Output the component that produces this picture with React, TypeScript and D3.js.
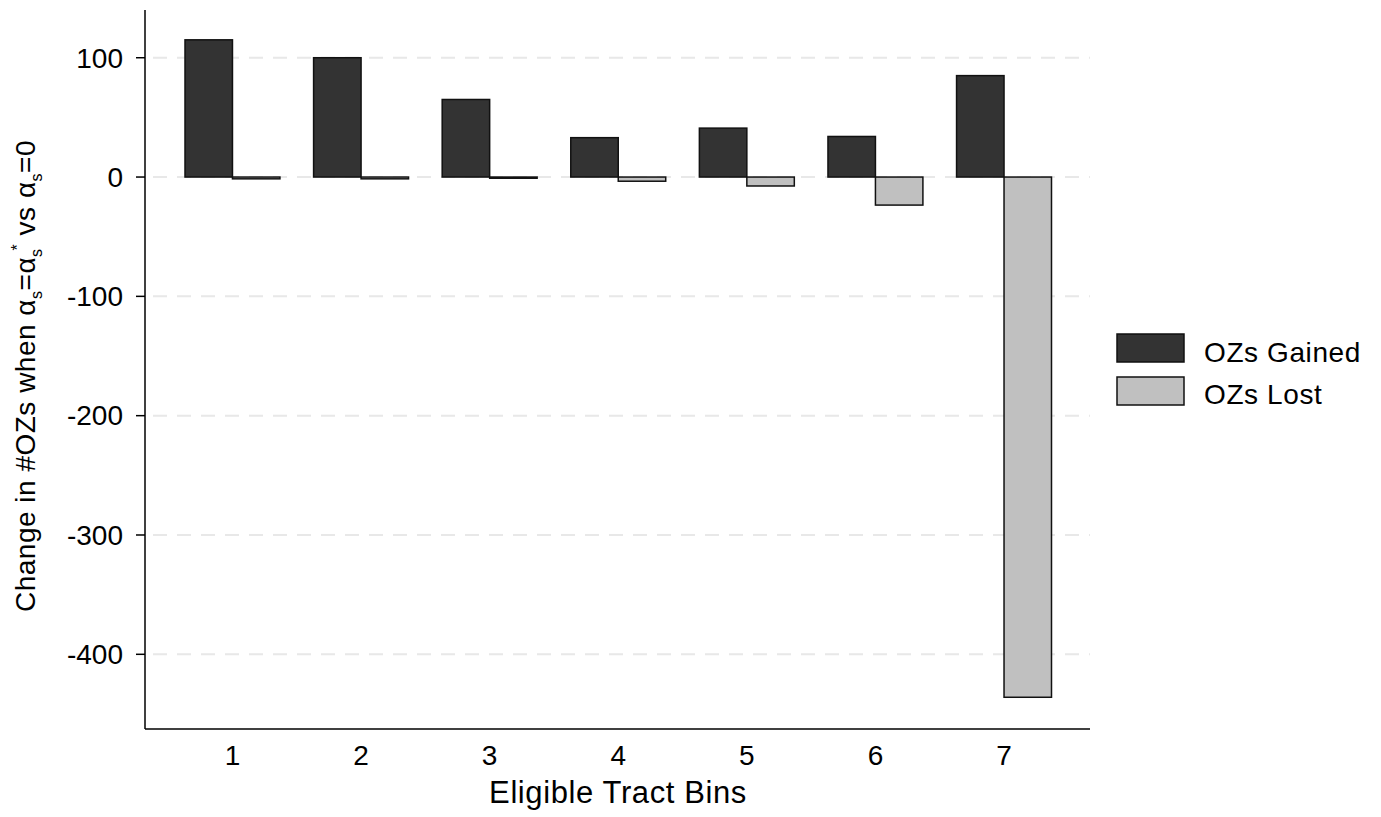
import React from "react";
import * as d3 from "d3";

const bins = ["1", "2", "3", "4", "5", "6", "7"];
const gained = [115, 100, 65, 33, 41, 34, 85];
const lost = [-1.5, -1.5, -1, -3.5, -7.5, -23.5, -436];
const yTicks = [100, 0, -100, -200, -300, -400];
const seriesNames = ["OZs Gained", "OZs Lost"];
const seriesColors = ["#333333", "#c0c0c0"];

const W = 1381;
const H = 817;
const left = 145;
const right = 1090;
const top = 10;
const bottom = 729;
const font = "'Liberation Sans', Arial, Helvetica, sans-serif";

export default function App() {
  const y = d3.scaleLinear().domain([140, -462.6]).range([top, bottom]);
  const x = d3.scaleBand().domain(bins).range([185, 1051.5]).paddingInner(0.2617).paddingOuter(0);
  const half = x.bandwidth() / 2;
  const sub = d3.scaleBand().domain(seriesNames).range([0, x.bandwidth()]);
  const series = [gained, lost];

  return (
    <svg width={W} height={H} style={{ position: "absolute", left: 0, top: 0, background: "#fff" }}>
      {/* dashed grid */}
      {yTicks.map((t) => (
        <line key={"g" + t} x1={left + 8} x2={right} y1={y(t)} y2={y(t)}
          stroke="#e8e8e8" strokeWidth={2} strokeDasharray="14,10" />
      ))}
      {/* bars */}
      {series.map((vals, si) =>
        vals.map((v, i) => {
          const bx = (x(bins[i]) as number) + (sub(seriesNames[si]) as number);
          const y0 = y(Math.max(0, v));
          const y1 = y(Math.min(0, v));
          return (
            <rect key={si + "-" + i} x={bx} y={y0} width={sub.bandwidth()} height={Math.max(0.5, y1 - y0)}
              fill={seriesColors[si]} stroke="#111" strokeWidth={1.5} />
          );
        })
      )}
      {/* axes */}
      <line x1={left} x2={left} y1={top} y2={bottom} stroke="#000" strokeWidth={1.5} />
      <line x1={left} x2={right} y1={bottom} y2={bottom} stroke="#000" strokeWidth={1.5} />
      {yTicks.map((t) => (
        <g key={"t" + t}>
          <line x1={left - 9} x2={left} y1={y(t)} y2={y(t)} stroke="#000" strokeWidth={1.5} />
          <text x={left - 22} y={y(t)} dy="0.35em" textAnchor="end" fontFamily={font} fontSize={28}>{t}</text>
        </g>
      ))}
      {bins.map((b) => (
        <text key={"x" + b} x={(x(b) as number) + half} y={765} textAnchor="middle" fontFamily={font} fontSize={28}>{b}</text>
      ))}
      <text x={618} y={803} textAnchor="middle" fontFamily={font} fontSize={31} letterSpacing={0.6}>Eligible Tract Bins</text>
      <text transform={`translate(35,376) rotate(-90)`} textAnchor="middle" fontFamily={font} fontSize={28} letterSpacing={0.5}>
        Change in #OZs when α<tspan fontSize={16} dy={7}>s</tspan><tspan dy={-7}>=α</tspan>
        <tspan fontSize={16} dy={7}>s</tspan><tspan fontSize={16} dy={-19} dx={-2}>*</tspan>
        <tspan dy={12}> vs α</tspan><tspan fontSize={16} dy={7}>s</tspan><tspan dy={-7}>=0</tspan>
      </text>
      {/* legend */}
      {seriesNames.map((n, i) => (
        <g key={n}>
          <rect x={1117} y={334 + i * 43} width={67} height={28} fill={seriesColors[i]} stroke="#111" strokeWidth={1.5} />
          <text x={1204} y={362 + i * 42} fontFamily={font} fontSize={28} letterSpacing={0.6}>{n}</text>
        </g>
      ))}
    </svg>
  );
}
